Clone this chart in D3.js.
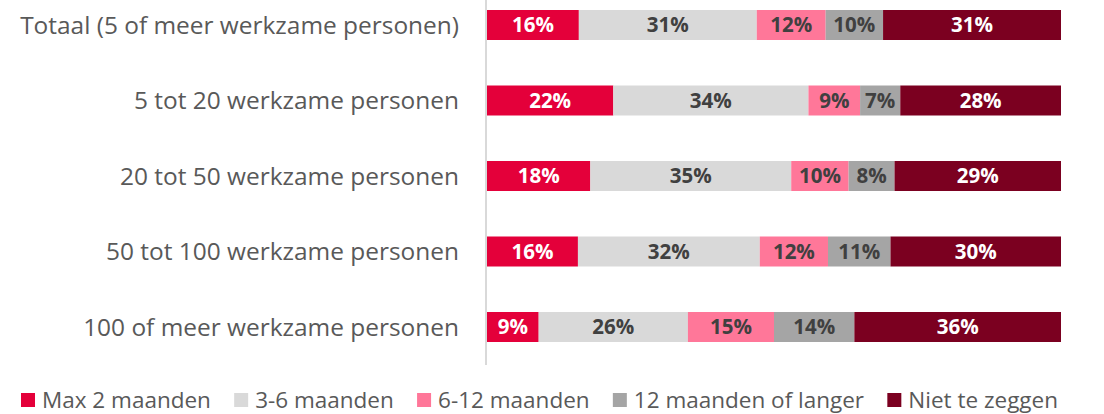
<!DOCTYPE html>
<html><head><meta charset="utf-8">
<script src="https://cdn.jsdelivr.net/npm/d3@7"></script>
<style>body{margin:0;background:#fff}svg{display:block}</style>
</head><body>
<svg id="c" width="1104" height="414"></svg>
<script>
const categories = ["Totaal (5 of meer werkzame personen)","5 tot 20 werkzame personen","20 tot 50 werkzame personen","50 tot 100 werkzame personen","100 of meer werkzame personen"];
const seriesNames = ["Max 2 maanden","3-6 maanden","6-12 maanden","12 maanden of langer","Niet te zeggen"];
const max2 = [16,22,18,16,9];
const m3_6 = [31,34,35,32,26];
const m6_12 = [12,9,10,12,15];
const m12plus = [10,7,8,11,14];
const nietTeZeggen = [31,28,29,30,36];
const colors = ["#E4003A","#D9D9D9","#FF7799","#A5A5A5","#7B0020"];
const labelColors = ["#ffffff","#404040","#404040","#404040","#ffffff"];

const series = [max2,m3_6,m6_12,m12plus,nietTeZeggen];
const rows = categories.map((c,i)=>{const o={cat:c};seriesNames.forEach((s,j)=>o[s]=series[j][i]);return o;});
const stacked = d3.stack().keys(seriesNames).offset(d3.stackOffsetExpand)(rows);

const svg = d3.select("#c");
const font = "'Open Sans', sans-serif";
const x = d3.scaleLinear().domain([0,1]).range([487,1061]);
const y = d3.scaleBand().domain(categories).range([-12.75,364.75]).paddingInner(0.6026).paddingOuter(0.3013);

function fitSize(str, target, weight){
  const t = svg.append("text").attr("font-family",font).attr("font-size",100).attr("font-weight",weight||"normal").text(str);
  const w = t.node().getComputedTextLength(); t.remove();
  return 100*target/w;
}
const catSize = fitSize(categories[0], 439);
const legSize = fitSize(seriesNames[0], 169);
const valSize = Math.min(21, fitSize("31%", 42, "bold"));

svg.append("line").attr("x1",486).attr("x2",486).attr("y1",0).attr("y2",365)
  .attr("stroke","#D9D9D9").attr("stroke-width",2);

const g = svg.selectAll("g.s").data(stacked).join("g").attr("class","s");
g.each(function(s,si){
  const sel = d3.select(this);
  sel.selectAll("rect").data(s).join("rect")
    .attr("x",d=>x(d[0])).attr("width",d=>x(d[1])-x(d[0]))
    .attr("y",d=>y(d.data.cat)).attr("height",y.bandwidth())
    .attr("fill",colors[si]);
  sel.selectAll("text").data(s).join("text")
    .attr("x",d=>(x(d[0])+x(d[1]))/2).attr("y",d=>y(d.data.cat)+y.bandwidth()/2)
    .attr("dy","0.36em").attr("text-anchor","middle")
    .attr("font-family",font).attr("font-weight","bold").attr("font-size",valSize)
    .attr("fill",labelColors[si])
    .text(d=>d.data[s.key]+"%");
});

svg.selectAll("text.cat").data(categories).join("text").attr("class","cat")
  .attr("x",459).attr("y",d=>y(d)+y.bandwidth()/2).attr("dy","0.36em")
  .attr("text-anchor","end").attr("font-family",font).attr("font-size",catSize)
  .attr("fill","#595959").text(d=>d);

// legend: spread items so it spans from x=21 to x=1058 as in the reference
const leg = svg.append("g");
const items = seriesNames.map((s,i)=>{
  const grp = leg.append("g");
  grp.append("rect").attr("x",0).attr("y",-7).attr("width",14).attr("height",14).attr("fill",colors[i]);
  const t = grp.append("text").attr("x",21).attr("y",0).attr("dy","0.35em")
    .attr("font-family",font).attr("font-size",legSize).attr("fill","#595959").text(s);
  return {grp, w: 21 + t.node().getComputedTextLength()};
});
const totalW = d3.sum(items, d=>d.w);
const gap = (1058 - 21 - totalW) / (items.length - 1);
let lx = 21;
items.forEach(it=>{ it.grp.attr("transform",`translate(${lx},400)`); lx += it.w + gap; });
</script>
</body></html>
